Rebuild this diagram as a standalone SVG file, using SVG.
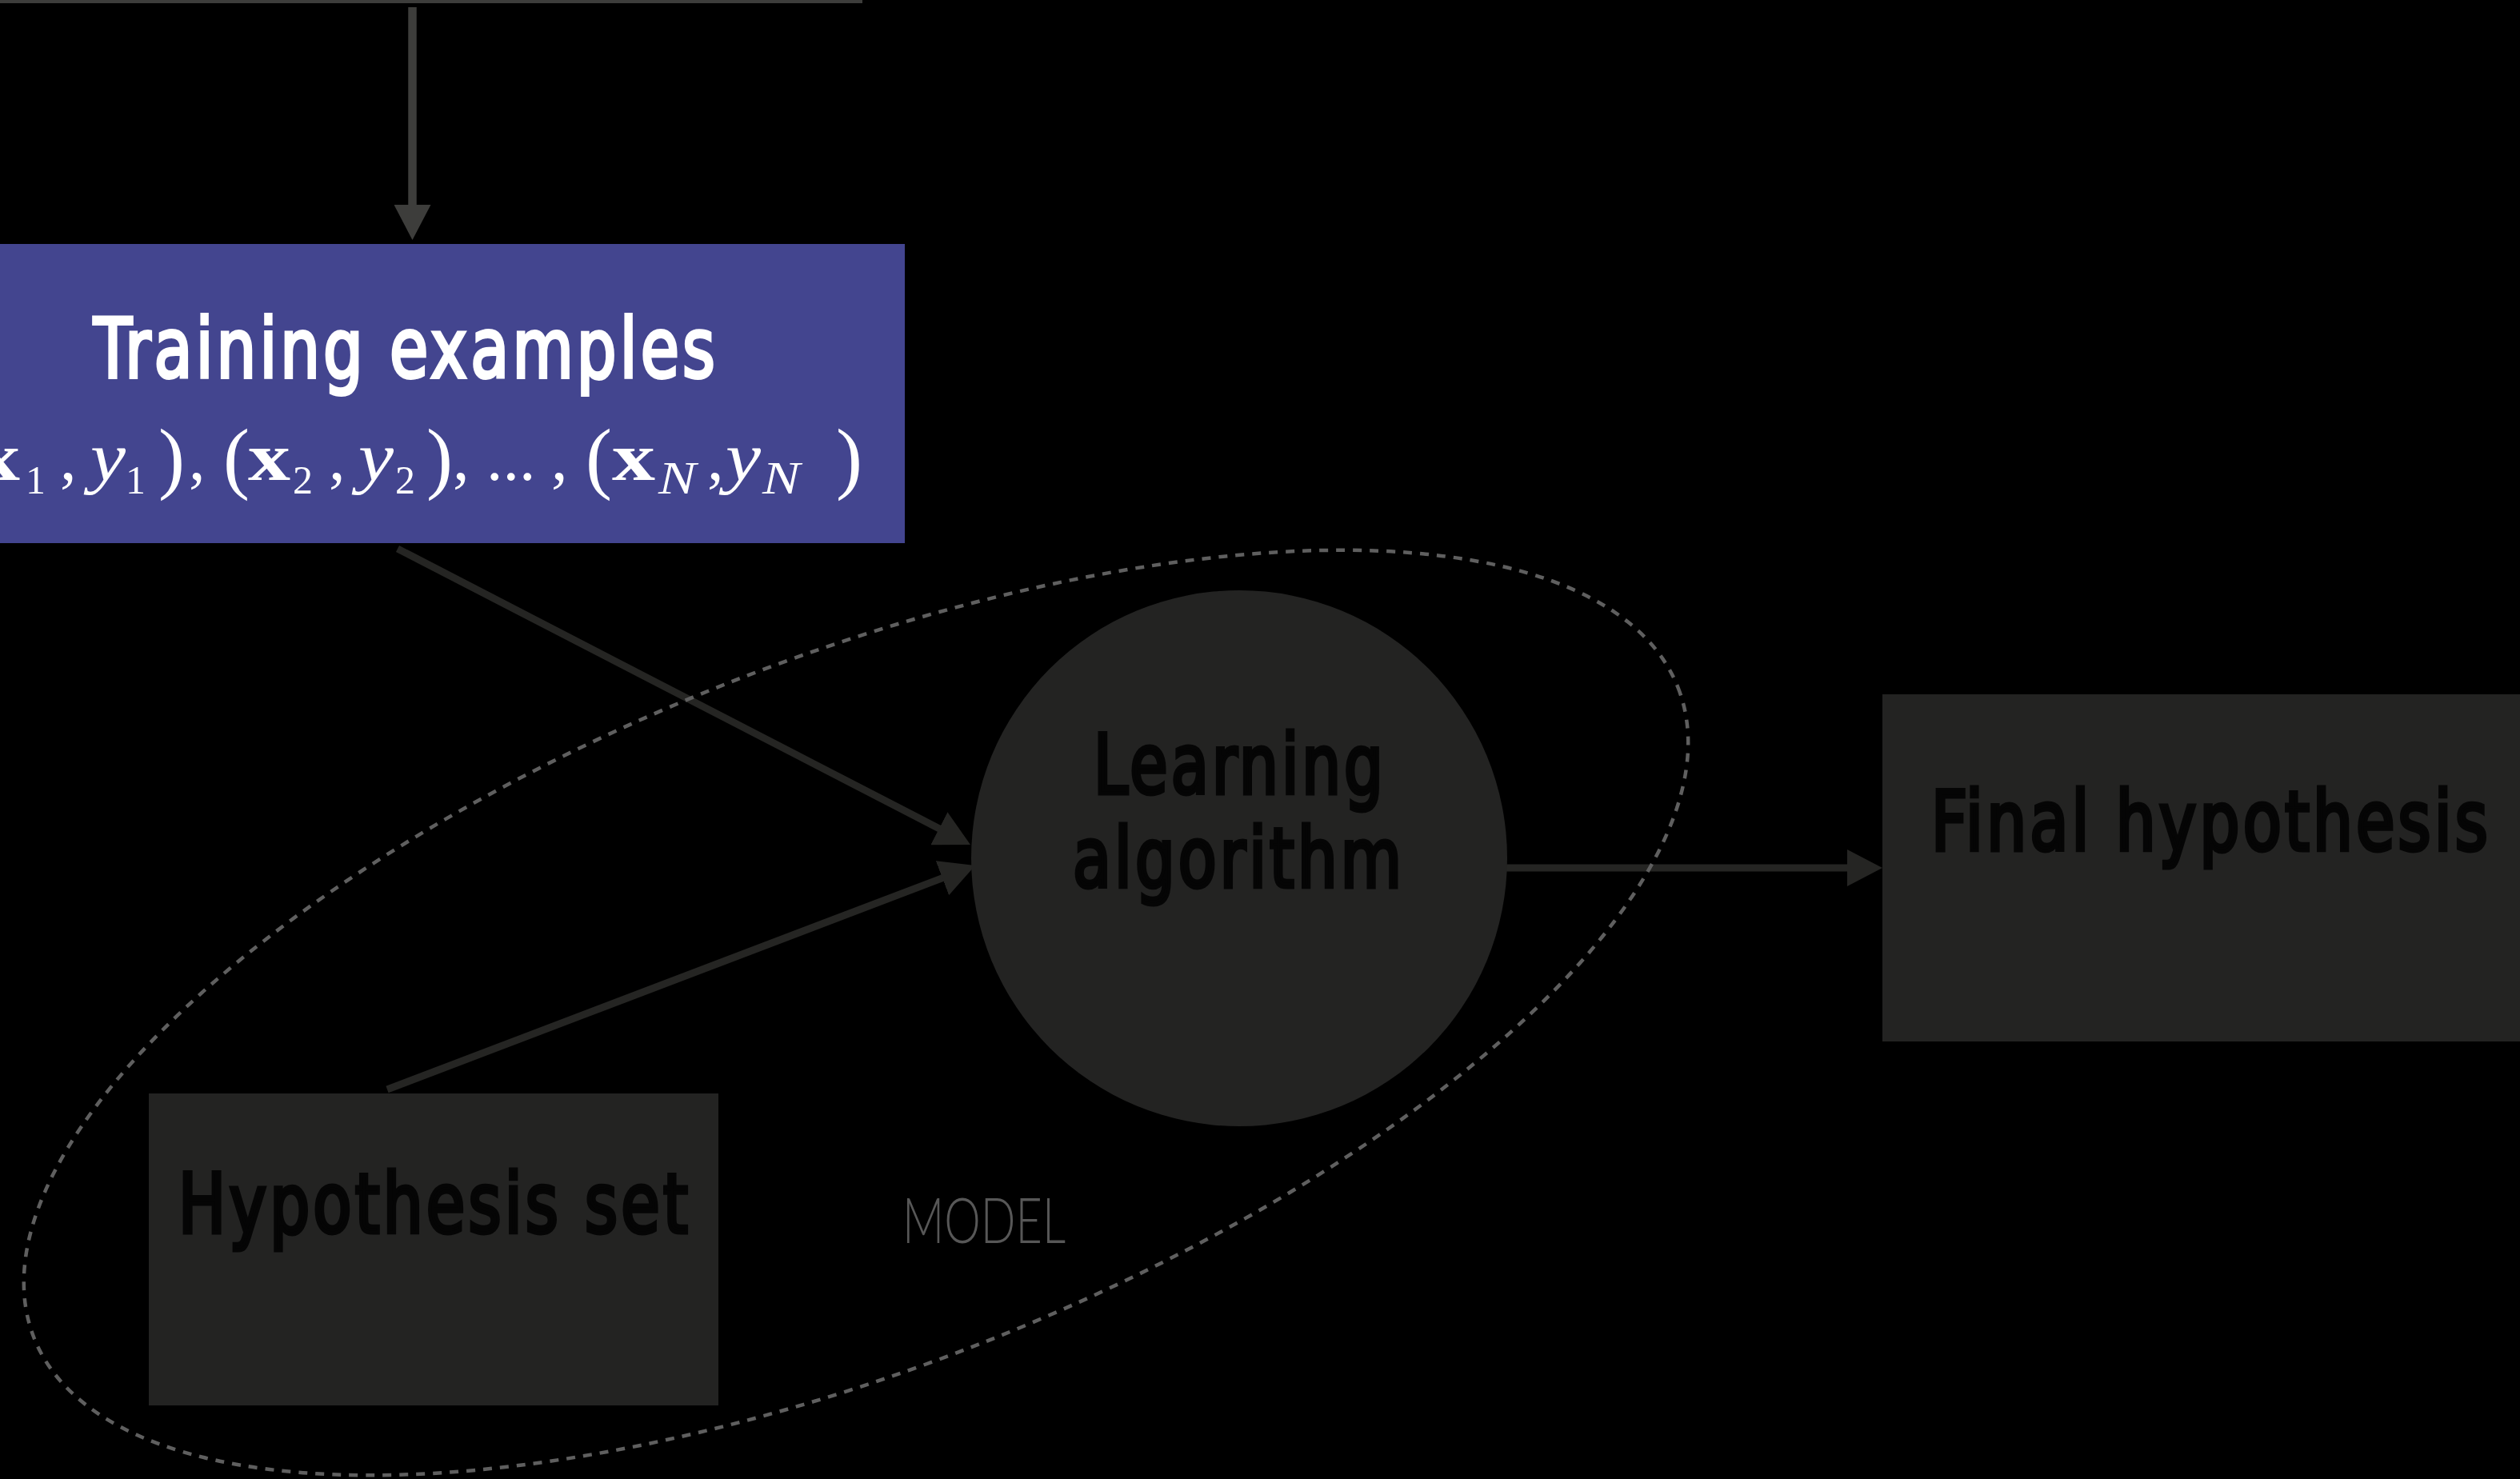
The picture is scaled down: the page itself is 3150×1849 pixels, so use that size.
<svg xmlns="http://www.w3.org/2000/svg" width="3150" height="1849" viewBox="0 0 3150 1849">
  <style>
    .label { font-family: "DejaVu Sans Condensed", "Liberation Sans Narrow", "Liberation Sans", sans-serif; font-weight: normal; font-size: 104px; letter-spacing: 5px; }
    .dark { fill: #050505; stroke: #050505; stroke-width: 5px; }
    .light { fill: #ffffff; stroke: #ffffff; stroke-width: 4px; }
    .box { fill: #232322; }
    .math text { font-family: "Liberation Serif", "DejaVu Serif", serif; fill: #ffffff; font-size: 82px; }
    .math .bf { font-weight: bold; font-size: 84px; }
    .math .it { font-style: italic; font-size: 86px; }
    .math .sub { font-size: 50px; }
    .math .subn { font-size: 58px; font-style: italic; }
    .math .paren { font-size: 99px; }
    .conn { fill: none; stroke-linecap: butt; }
    .caption { font-family: "Lato", "Liberation Sans", sans-serif; font-weight: 300; font-size: 78px; fill: #575757; }
  </style>
  <defs>
    <marker id="arrow-light" markerUnits="userSpaceOnUse" markerWidth="44" markerHeight="46" viewBox="0 0 44 46" refX="34" refY="23" orient="auto">
      <path d="M0,0 L44,23 L0,46 z" fill="#3d3d3b"/>
    </marker>
    <marker id="arrow-dark" markerUnits="userSpaceOnUse" markerWidth="44" markerHeight="46" viewBox="0 0 44 46" refX="34" refY="23" orient="auto">
      <path d="M0,0 L44,23 L0,46 z" fill="#252523"/>
    </marker>
  </defs>

  <rect width="3150" height="1849" fill="#000000"/>

  <!-- edge of the block above, cut by the frame -->
  <rect x="0" y="0" width="1078" height="4" fill="#3d3d3b"/>

  <g id="connectors">
    <line class="conn" x1="515.5" y1="9" x2="515.5" y2="290" stroke="#3d3d3b" stroke-width="10.5" marker-end="url(#arrow-light)"/>
    <line class="conn" x1="497" y1="686" x2="1204.1" y2="1051.4" stroke="#252523" stroke-width="9" marker-end="url(#arrow-dark)"/>
    <line class="conn" x1="484" y1="1362" x2="1209.7" y2="1085.6" stroke="#252523" stroke-width="9" marker-end="url(#arrow-dark)"/>
    <line class="conn" x1="1880" y1="1085" x2="2343" y2="1085" stroke="#252523" stroke-width="9" marker-end="url(#arrow-dark)"/>
  </g>

  <g id="training-examples">
    <rect x="-10" y="305" width="1141" height="374" fill="#43458f"/>
    <text class="label light" x="117" y="472" textLength="781" lengthAdjust="spacingAndGlyphs">Training examples</text>
    <!-- (x1, y1), (x2, y2), ..., (xN, yN) set glyph by glyph -->
    <g class="math">
      <text class="paren" x="-66" y="605">(</text>
      <text class="bf" x="-28" y="600" textLength="53" lengthAdjust="spacingAndGlyphs">x</text>
      <text class="sub" x="32" y="617">1</text>
      <text x="75" y="600">,</text>
      <text class="it" x="113" y="600" textLength="44" lengthAdjust="spacingAndGlyphs">y</text>
      <text class="sub" x="157" y="617">1</text>
      <text class="paren" x="198" y="605">)</text>
      <text x="236" y="600">,</text>
      <text class="paren" x="279" y="605">(</text>
      <text class="bf" x="310" y="600" textLength="53" lengthAdjust="spacingAndGlyphs">x</text>
      <text class="sub" x="366" y="617">2</text>
      <text x="411" y="600">,</text>
      <text class="it" x="448" y="600" textLength="44" lengthAdjust="spacingAndGlyphs">y</text>
      <text class="sub" x="494" y="617">2</text>
      <text class="paren" x="533" y="605">)</text>
      <text x="566" y="600">,</text>
      <text x="608" y="600">...</text>
      <text x="689" y="600">,</text>
      <text class="paren" x="732" y="605">(</text>
      <text class="bf" x="765" y="600" textLength="54" lengthAdjust="spacingAndGlyphs">x</text>
      <text class="subn" x="823" y="617" textLength="47" lengthAdjust="spacingAndGlyphs">N</text>
      <text x="884" y="600">,</text>
      <text class="it" x="907" y="600" textLength="44" lengthAdjust="spacingAndGlyphs">y</text>
      <text class="subn" x="953" y="617" textLength="47" lengthAdjust="spacingAndGlyphs">N</text>
      <text class="paren" x="1045" y="605">)</text>
    </g>
  </g>

  <g id="learning-algorithm">
    <circle cx="1549" cy="1073" r="335" fill="#232322"/>
    <text class="label dark" x="1367" y="992" textLength="366" lengthAdjust="spacingAndGlyphs">Learning</text>
    <text class="label dark" x="1341" y="1109" textLength="415" lengthAdjust="spacingAndGlyphs">algorithm</text>
  </g>

  <g id="final-hypothesis">
    <rect class="box" x="2353" y="868" width="820" height="434"/>
    <text class="label dark" x="2414" y="1063" textLength="700" lengthAdjust="spacingAndGlyphs">Final hypothesis</text>
  </g>

  <g id="hypothesis-set">
    <rect class="box" x="186" y="1367" width="712" height="390"/>
    <text class="label dark" x="223" y="1541" textLength="641" lengthAdjust="spacingAndGlyphs">Hypothesis set</text>
  </g>

  <g id="model">
    <ellipse cx="1070" cy="1266" rx="1105" ry="442" transform="rotate(-21.6 1070 1266)" fill="none" stroke="#5f5f5f" stroke-width="4.5" stroke-dasharray="11 10"/>
    <text class="caption" x="1128" y="1554" textLength="204" lengthAdjust="spacingAndGlyphs">MODEL</text>
  </g>
</svg>
